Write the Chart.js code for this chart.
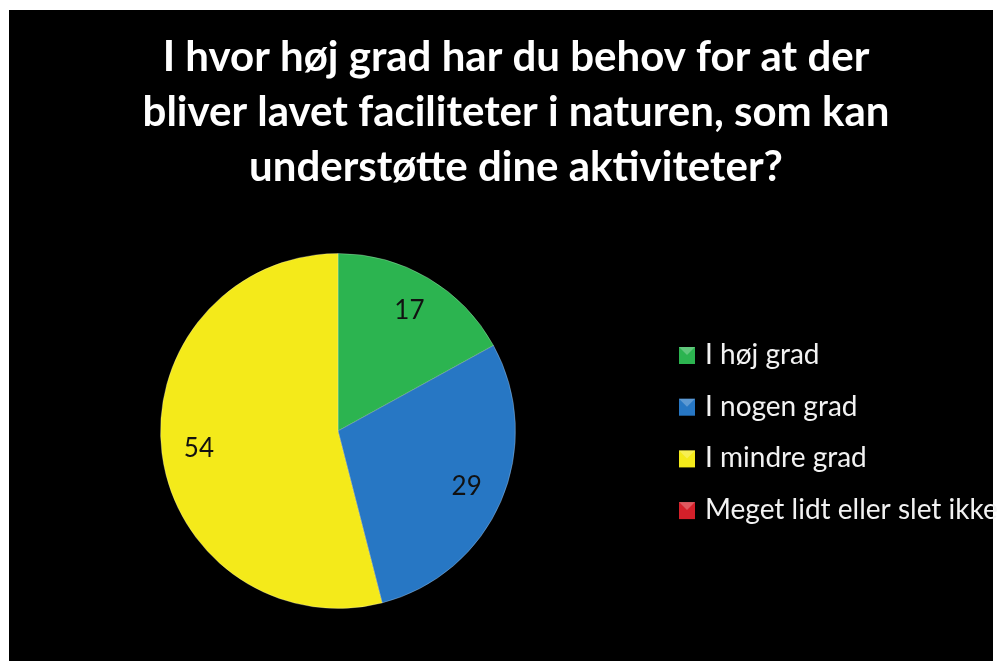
<!DOCTYPE html>
<html>
<head>
<meta charset="utf-8">
<script src="https://cdn.jsdelivr.net/npm/chart.js@4.4.1/dist/chart.umd.min.js"></script>
<style>
  html,body{margin:0;padding:0;background:#fff;}
  #wrap{width:997px;height:661px;position:relative;}
  canvas{display:block;}
</style>
</head>
<body>
<div id="wrap"><canvas id="c" width="997" height="661"></canvas></div>
<script>
const titleLines = [
  "I hvor høj grad har du behov for at der",
  "bliver lavet faciliteter i naturen, som kan",
  "understøtte dine aktiviteter?"
];
const categories = ["I høj grad", "I nogen grad", "I mindre grad", "Meget lidt eller slet ikke"];
const values = [17, 29, 54, 0];
const colors = ["#2cb450", "#2777c4", "#f4ea1a", "#d4202a"];

const bgPlugin = {
  id: 'bg',
  beforeDraw(chart) {
    const ctx = chart.ctx;
    ctx.save();
    ctx.fillStyle = '#ffffff';
    ctx.fillRect(0, 0, chart.width, chart.height);
    ctx.fillStyle = '#000000';
    ctx.fillRect(9, 10, 984, 651);
    ctx.restore();
  }
};

const titlePlugin = {
  id: 'titleLines',
  afterDraw(chart) {
    const ctx = chart.ctx;
    ctx.save();
    ctx.fillStyle = '#ffffff';
    ctx.textAlign = 'center';
    ctx.textBaseline = 'middle';
    ctx.font = 'bold 42px Lato';
    const ys = [57, 112, 167];
    titleLines.forEach((t, i) => ctx.fillText(t, 516, ys[i]));
    ctx.restore();
  }
};

const labelPlugin = {
  id: 'sliceLabels',
  afterDatasetsDraw(chart) {
    const ctx = chart.ctx;
    const meta = chart.getDatasetMeta(0);
    ctx.save();
    ctx.fillStyle = '#111111';
    ctx.font = '26px Lato';
    ctx.textAlign = 'center';
    ctx.textBaseline = 'middle';
    meta.data.forEach((arc, i) => {
      const v = chart.data.datasets[0].data[i];
      if (!v) return;
      const p = arc.getProps(['x','y','startAngle','endAngle','outerRadius'], true);
      const mid = (p.startAngle + p.endAngle) / 2;
      const r = p.outerRadius * 0.79;
      ctx.fillText(String(v), p.x + Math.cos(mid) * r, p.y + Math.sin(mid) * r);
    });
    ctx.restore();
  }
};

const legendPlugin = {
  id: 'customLegend',
  afterDraw(chart) {
    const ctx = chart.ctx;
    const ds = chart.data.datasets[0];
    ctx.save();
    ctx.font = '28px Lato';
    ctx.textBaseline = 'middle';
    ctx.textAlign = 'left';
    chart.data.labels.forEach((lab, i) => {
      const y = 355 + i * 51.7;
      ctx.fillStyle = ds.backgroundColor[i];
      ctx.fillRect(679, y - 8, 16, 17);
      ctx.fillStyle = 'rgba(255,255,255,0.25)';
      ctx.beginPath();
      ctx.moveTo(679, y - 8); ctx.lineTo(695, y - 8); ctx.lineTo(687, y); ctx.closePath();
      ctx.fill();
      ctx.fillStyle = '#f2f2f2';
      ctx.fillText(lab, 705, y);
    });
    ctx.restore();
  }
};

new Chart(document.getElementById('c'), {
  type: 'pie',
  data: {
    labels: categories,
    datasets: [{
      data: values,
      backgroundColor: colors,
      borderColor: 'rgba(255,255,255,0.25)',
      borderWidth: 1
    }]
  },
  options: {
    responsive: false,
    animation: false,
    layout: { padding: { left: 160, right: 481, top: 253, bottom: 52 } },
    plugins: {
      legend: { display: false },
      title: { display: false },
      tooltip: { enabled: false }
    }
  },
  plugins: [bgPlugin, titlePlugin, labelPlugin, legendPlugin]
});
</script>
</body>
</html>
